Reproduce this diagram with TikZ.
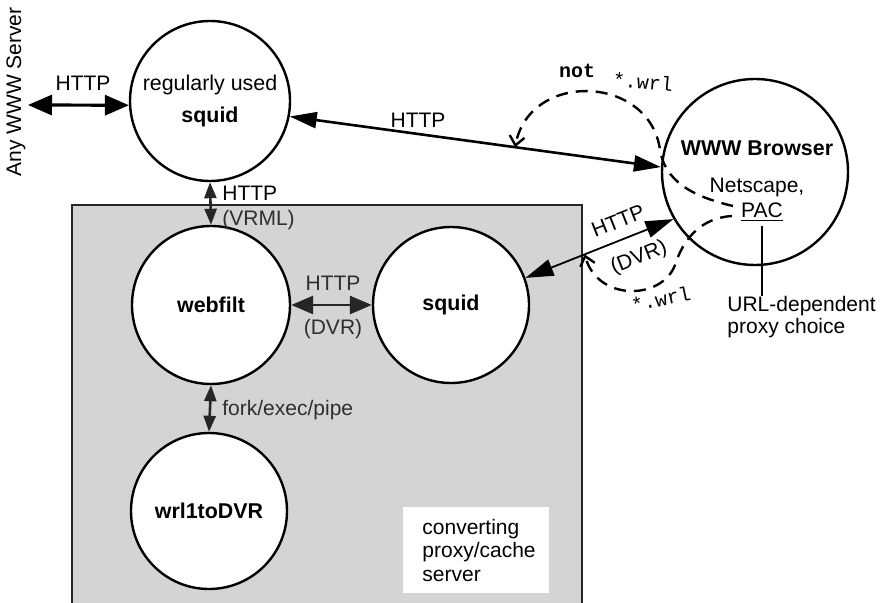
\documentclass[tikz,border=0pt]{standalone}
\usepackage{fontspec}
\setmainfont{Liberation Sans}
\newfontfamily\codefont{Liberation Mono}
\usetikzlibrary{arrows.meta}
\begin{document}
\begin{tikzpicture}[x=0.5pt, y=-0.5pt,
  font=\fontsize{10.5}{12.6}\selectfont,
  proc/.style={circle, draw, line width=1.2pt, fill=white, inner sep=0pt, align=center,
    font=\fontsize{10.7}{12.6}\selectfont\bfseries},
  inbox/.style={text=black!82},
  code/.style={font=\codefont\fontsize{10}{12}\selectfont, inner sep=0pt},
  bigarr/.style={line width=1.6pt, {Triangle[length=12pt,width=10pt]}-{Triangle[length=12pt,width=10pt]}},
  mainarr/.style={line width=1.3pt, {Triangle[length=13.5pt,width=8pt]}-{Triangle[length=13.5pt,width=8pt]}},
  smallarr/.style={line width=1.3pt, draw=black!85, {Triangle[length=8pt,width=6pt]}-{Triangle[length=8pt,width=6pt]}},
  midarr/.style={line width=1.4pt, draw=black!85, {Triangle[length=11pt,width=9pt]}-{Triangle[length=11pt,width=9pt]}},
  diagarr/.style={line width=0.9pt, {Triangle[length=14pt,width=8.5pt]}-{Triangle[length=14pt,width=8.5pt]}},
  dashflow/.style={dash pattern=on 6pt off 4pt, line width=1.2pt, -{Straight Barb[length=4.5pt,width=7.5pt]}}
]
\useasboundingbox (0,0) rectangle (882,603);
\clip (0,0) rectangle (882,603);

% converting proxy/cache server area
\filldraw[fill=black!17, draw=black!85, line width=0.9pt] (72,205) rectangle (582,625);

% processes
\node[proc, minimum size=80pt] (sq1) at (210,101) {{\mdseries regularly used}\\[3.5pt]squid};
\node[proc, minimum size=79pt] (webfilt) at (211,305) {webfilt};
\node[proc, minimum size=78pt] (squid2) at (451,305) {squid};
\node[proc, minimum size=78pt] (wrl) at (209,511) {wrl1toDVR};
\node[proc, minimum size=93pt] (browser) at (755,172) {};

% browser contents
\node[font=\fontsize{10.7}{12.6}\selectfont\bfseries] (wbt) at (757,148) {WWW Browser};
\node (ns) at (757,187) {Netscape,};
\node[inner sep=2pt] (pac) at (762,212) {\underline{PAC}};
\node[anchor=north west, align=left, inner sep=0pt, font=\fontsize{10.5}{11}\selectfont] (url) at (727,296) {URL-dependent\\proxy choice};
\draw[line width=0.6pt] (pac.south) -- (pac.south |- url.north);

% outside server
\node[rotate=90] (srvlbl) at (16,92) {Any WWW Server};
\coordinate (srv) at (28,105);
\draw[bigarr] (srv) -- (sq1.183);
\node (lhttp) at (83,83) {HTTP};

% browser <-> regular squid
\draw[mainarr] (sq1.-11) -- (browser.177) coordinate[pos=0.607] (hit1);
\node (mhttp) at (418,120) {HTTP};

% regular squid <-> webfilt
\draw[smallarr] (sq1.south) -- (webfilt.north);
\node[anchor=west, inner sep=0pt] (vh) at (222,193) {HTTP};
\node[anchor=west, inner sep=0pt, inbox] (vv) at (222,220) {(VRML)};

% webfilt <-> squid
\draw[midarr] (webfilt.east) -- (squid2.west);
\node[inbox] (dh) at (333,283) {HTTP};
\node[inbox] (dv) at (333,329) {(DVR)};

% webfilt <-> wrl1toDVR
\draw[smallarr] (webfilt.south) -- (wrl.north);
\node[anchor=west, inner sep=0pt, inbox] (fork) at (222,410) {fork/exec/pipe};

% squid <-> browser
\draw[diagarr] (squid2.20) -- (browser.210) coordinate[pos=0.4] (hit2);
\node[rotate=21.6, inner sep=1pt] (bh) at (618,221) {HTTP};
\node[rotate=21.6, inner sep=1pt] (bv) at (639,258) {(DVR)};

% proxy choice made by the PAC script
\coordinate (d1) at (733,206);
\coordinate (d2) at (732,216);
\draw[dashflow] (d1) .. controls (690,196) and (665,180) .. (660,150)
  .. controls (650,75) and (530,70) .. (hit1);
\draw[dashflow] (d2) .. controls (700,218) and (683,240) .. (675,265)
  .. controls (662,300) and (598,302) .. (hit2);
\node[code, font=\codefont\bfseries\fontsize{10}{12}\selectfont] (notlbl) at (577,71) {not};
\node[code, rotate=-5] (wrlA) at (643,82) {*.wrl};
\node[code, rotate=12] (wrlB) at (661,299) {*.wrl};

% caption of the server area
\node[fill=white, anchor=north west, text width=54pt, inner xsep=9.5pt, inner ysep=0pt,
  minimum height=43pt, align=left, font=\fontsize{10.5}{11.75}\selectfont] (conv) at (403,507)
  {converting\\proxy/cache\\server};
\end{tikzpicture}
\end{document}
